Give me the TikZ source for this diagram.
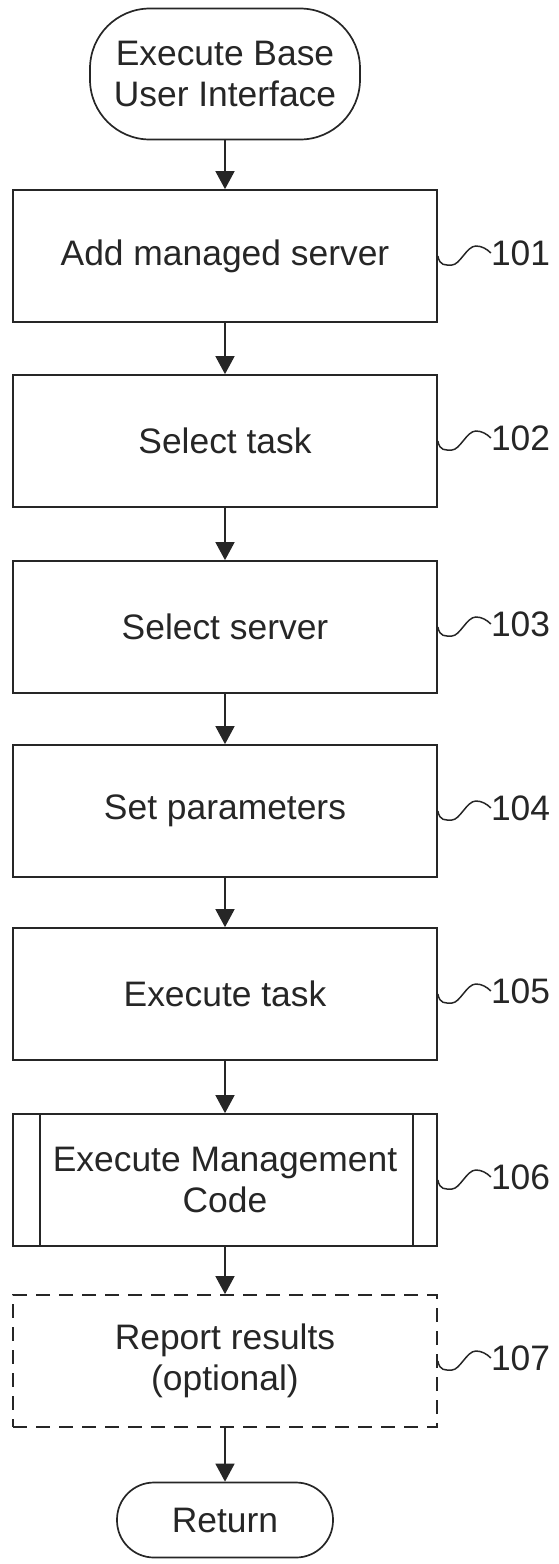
\documentclass[tikz,border=0pt]{standalone}
\usepackage{fontspec}
\setmainfont{Liberation Sans}
\usetikzlibrary{arrows.meta,positioning}

\tikzset{
  txt/.style={font=\fontsize{35.4pt}{41pt}\selectfont, text=black!85},
  stepbox/.style={txt, draw=black!85, line width=1.7pt, minimum width=424pt,
    minimum height=132pt, inner sep=0pt, align=center},
  endbox/.style={txt, draw=black!85, line width=1.7pt, inner sep=0pt, align=center},
  flow/.style={draw=black!85, line width=1.5pt, -{Triangle[length=18pt,width=19pt]}},
  wave/.style={draw=black!85, line width=1.5pt},
  refno/.style={txt, inner sep=0pt}
}

\begin{document}
\begin{tikzpicture}[x=1pt,y=-1pt]
\useasboundingbox (0,0) rectangle (559,1564);

\node[endbox, minimum width=270pt, minimum height=131pt, rounded corners=60pt] (start) at (225,74) {Execute Base\\User Interface};
\node[stepbox] (s101) at (225,256) {Add managed server};
\node[stepbox] (s102) at (225,441) {Select task};
\node[stepbox] (s103) at (225,627) {Select server};
\node[stepbox] (s104) at (225,811) {Set parameters};
\node[stepbox] (s105) at (225,994) {Execute task};
\node[stepbox] (s106) at (225,1180) {Execute Management\\Code};
\node[stepbox, dash pattern=on 14pt off 9pt] (s107) at (225,1361) {Report results\\(optional)};
\node[endbox, minimum width=216pt, minimum height=75pt, rounded corners=37pt] (ret) at (225,1520) {Return};

% side bars of the predefined process
\draw[line width=1.7pt, black!85] ([xshift=28pt]s106.north west) -- ([xshift=28pt]s106.south west);
\draw[line width=1.7pt, black!85] ([xshift=-25pt]s106.north east) -- ([xshift=-25pt]s106.south east);

\foreach \a/\b in {start/s101,s101/s102,s102/s103,s103/s104,s104/s105,s105/s106,s106/s107,s107/ret}
{
\draw[flow] (\a) -- (\b);
}

% reference numerals
\foreach \i in {101,...,107}
{
\node[refno, anchor=west, right=53pt of s\i, yshift=3pt] (l\i) {\i};
\draw[wave] (s\i.east) .. controls +(2,10) and +(-7,0) .. ++(14,9)
  .. controls +(8,0) and +(-9,0) .. ++(24,-19)
  .. controls +(6,0) and +(-4,-4) .. (l\i.west);
}
\end{tikzpicture}
\end{document}
